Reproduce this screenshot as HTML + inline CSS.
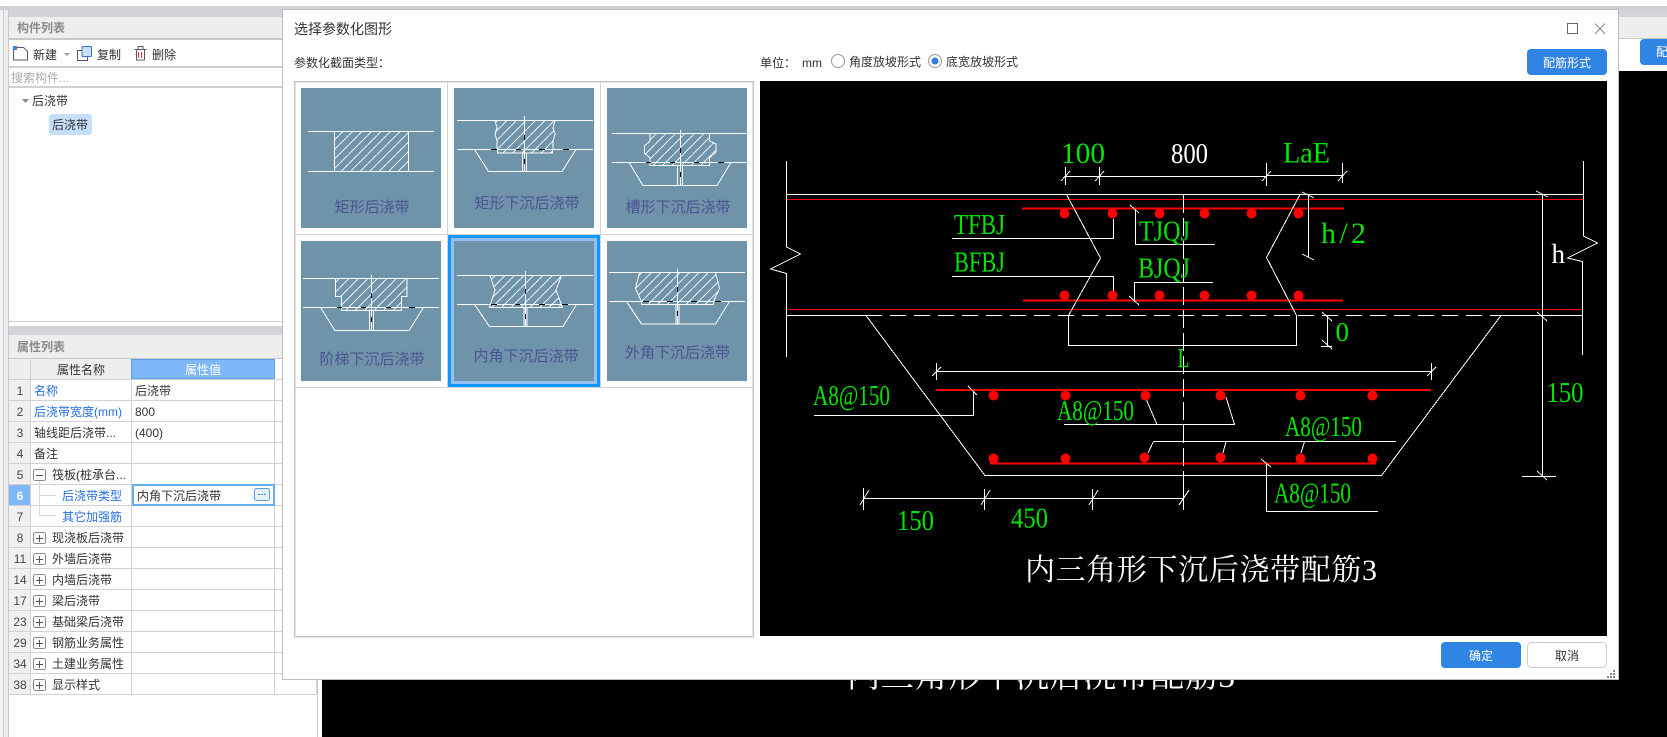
<!DOCTYPE html>
<html lang="zh"><head><meta charset="utf-8"><title>选择参数化图形</title>
<style>
html,body{margin:0;padding:0;background:#fff;width:1667px;height:737px;overflow:hidden}
svg{display:block}
text{font-family:"Liberation Sans","Noto Sans CJK SC",sans-serif;font-size:12px;fill:#333}
.b{fill:#2470e0}.n{text-anchor:middle;fill:#444}
.g{font-family:"Liberation Serif","Noto Serif CJK SC",serif;fill:#00e600}
.w{font-family:"Liberation Serif","Noto Serif CJK SC",serif;fill:#fff}
.t{font-size:15px;fill:#4a5590;text-anchor:middle}
.l{fill:none;stroke:#fff;stroke-width:1;shape-rendering:crispEdges}
.f{fill:url(#h);stroke:#fff;stroke-width:1;shape-rendering:crispEdges}
.d{fill:none;stroke:#000;stroke-width:1;shape-rendering:crispEdges}
.c{fill:none;stroke:#d2d2d2;stroke-width:1;shape-rendering:crispEdges}
.ic{fill:none;stroke:#555a6a;stroke-width:1}
</style></head><body>
<svg width="1667" height="737" viewBox="0 0 1667 737" xmlns="http://www.w3.org/2000/svg">
<defs>
<pattern id="h" patternUnits="userSpaceOnUse" width="9.500" height="9.500"><path d="M-1 10.500L10.500 -1" stroke="#fff" stroke-width="0.9" fill="none"/></pattern>
</defs>
<!-- base -->
<rect width="1667" height="737" fill="#fff"/>
<rect y="6" width="1667" height="4" fill="#cfd0d5"/>
<rect x="0" y="10" width="3" height="727" fill="#f2f2f2"/>
<rect x="3" y="10" width="1" height="727" fill="#c8c8c8"/>
<rect x="4" y="10" width="4" height="727" fill="#ededed"/>
<rect x="8" y="7" width="310" height="730" fill="#fff"/>
<rect x="8" y="7" width="310" height="10" fill="#d3d4d9"/>
<rect x="8" y="17" width="310" height="21" fill="#eee"/>
<rect x="8" y="38" width="310" height="2" fill="#c8c8c8"/>
<rect x="8" y="66" width="310" height="2" fill="#d0d0d0"/>
<rect x="8" y="86" width="310" height="2" fill="#d0d0d0"/>
<rect x="8" y="321" width="310" height="1" fill="#ccc"/>
<rect x="8" y="326" width="310" height="9" fill="#d3d4d9"/>
<rect x="8" y="335" width="310" height="23" fill="#eee"/>
<rect x="8" y="358" width="310" height="1" fill="#c8c8c8"/>
<rect x="8" y="10" width="1" height="727" fill="#c8c8c8"/>
<rect x="317" y="10" width="1" height="727" fill="#c8c8c8"/>
<!-- right region -->
<rect x="322" y="71" width="1345" height="666" fill="#000"/>
<rect x="1618" y="10" width="49" height="7" fill="#d3d4d9"/>
<rect x="1618" y="17" width="49" height="21" fill="#eee"/>
<rect x="1618" y="38" width="49" height="1" fill="#c8c8c8"/>
<rect x="1640" y="39" width="40" height="26" rx="4" fill="#2f84e4"/>
<text x="1656" y="56" style="fill:#fff">配</text>
<text x="847" y="687" class="w" style="font-size:33px" textLength="388" lengthAdjust="spacing">内三角形下沉后浇带配筋3</text>
<!-- left top -->
<text x="17" y="32" style="fill:#8a8a8a;font-weight:bold">构件列表</text>
<path class="ic" d="M13.500 47.500H23.500L27.500 51.500V60H13.500Z"/><rect x="13" y="46" width="4" height="4" fill="#3a80e8"/>
<text x="33" y="59">新建</text>
<path d="M64 53h6l-3 3z" fill="#999"/>
<rect x="77.500" y="50.500" width="10" height="10" class="ic"/><rect x="82" y="46.500" width="9.500" height="10" rx="1" fill="#c6dffa" stroke="#3a70c8"/>
<text x="97" y="59">复制</text>
<path class="ic" d="M134.500 49.500H146.500M136.500 49.500V60H144.500V49.500M138 49V46.500H143V49"/><path d="M138.500 52V58M141.500 52V58" stroke="#d8202a" fill="none"/>
<text x="152" y="59">删除</text>
<text x="11" y="82" style="fill:#aaa">搜索构件...</text>
<path d="M22 99h7l-3.500 4z" fill="#888"/>
<text x="32" y="105">后浇带</text>
<rect x="49" y="114" width="43" height="21" rx="3" fill="#c6dffa"/>
<text x="52" y="129">后浇带</text>
<!-- property table -->
<text x="17" y="351" style="fill:#8a8a8a;font-weight:bold">属性列表</text>
<rect x="9" y="359" width="266" height="20" fill="#eee"/>
<rect x="9" y="379" width="22" height="315" fill="#f0f0f0"/>
<rect x="131.500" y="359.500" width="143" height="19" fill="#7eb8f8" stroke="#5a9fe8"/>
<text x="57" y="374">属性名称</text>
<text x="185" y="374" style="fill:#fff">属性值</text>
<path class="c" d="M9 379.500H316M9 400.500H316M9 421.500H316M9 442.500H316M9 463.500H316M9 484.500H316M9 505.500H316M9 526.500H316M9 547.500H316M9 568.500H316M9 589.500H316M9 610.500H316M9 631.500H316M9 652.500H316M9 673.500H316M9 694.500H316M30.500 359V694M131.500 379V694M274.500 379V694M316.500 379V694"/>
<rect x="9" y="485" width="21" height="20" fill="#7eb8f8"/>
<text class="n" x="20" y="395">1</text><text class="n" x="20" y="416">2</text><text class="n" x="20" y="437">3</text><text class="n" x="20" y="458">4</text><text class="n" x="20" y="479">5</text>
<text class="n" x="20" y="500" style="fill:#fff;font-weight:bold">6</text>
<text class="n" x="20" y="521">7</text><text class="n" x="20" y="542">8</text><text class="n" x="20" y="563">11</text><text class="n" x="20" y="584">14</text><text class="n" x="20" y="605">17</text><text class="n" x="20" y="626">23</text><text class="n" x="20" y="647">29</text><text class="n" x="20" y="668">34</text><text class="n" x="20" y="689">38</text>
<text class="b" x="34" y="395">名称</text><text x="135" y="395">后浇带</text>
<text class="b" x="34" y="416">后浇带宽度(mm)</text><text x="135" y="416">800</text>
<text x="34" y="437">轴线距后浇带...</text><text x="135" y="437">(400)</text>
<text x="34" y="458">备注</text>
<text x="52" y="479">筏板(桩承台...</text>
<text class="b" x="62" y="500">后浇带类型</text>
<text class="b" x="62" y="521">其它加强筋</text>
<path d="M39.500 481V515.500H56M39.500 495.500H56" fill="none" stroke="#d8d8d8" shape-rendering="crispEdges"/>
<rect x="133" y="485" width="141" height="20" fill="#fff" stroke="#6aaeee" stroke-width="2"/>
<text x="137" y="500">内角下沉后浇带</text>
<rect x="254.500" y="488.500" width="15" height="12" rx="2" fill="#e8f1fb" stroke="#5a9fe8"/>
<path d="M258 494.500h2M261 494.500h2M264 494.500h2" stroke="#3a80d8" fill="none"/>
<text x="52" y="542">现浇板后浇带</text><text x="52" y="563">外墙后浇带</text><text x="52" y="584">内墙后浇带</text><text x="52" y="605">梁后浇带</text><text x="52" y="626">基础梁后浇带</text><text x="52" y="647">钢筋业务属性</text><text x="52" y="668">土建业务属性</text><text x="52" y="689">显示样式</text>
<g fill="#fff" stroke="#888" shape-rendering="crispEdges">
<rect x="33.500" y="469.500" width="12" height="11" rx="2"/>
<rect x="33.500" y="532.500" width="12" height="11" rx="2"/><rect x="33.500" y="553.500" width="12" height="11" rx="2"/><rect x="33.500" y="574.500" width="12" height="11" rx="2"/><rect x="33.500" y="595.500" width="12" height="11" rx="2"/><rect x="33.500" y="616.500" width="12" height="11" rx="2"/><rect x="33.500" y="637.500" width="12" height="11" rx="2"/><rect x="33.500" y="658.500" width="12" height="11" rx="2"/><rect x="33.500" y="679.500" width="12" height="11" rx="2"/>
</g>
<path d="M36 475.500h7M36 538.500h7M39.500 535v7M36 559.500h7M39.500 556v7M36 580.500h7M39.500 577v7M36 601.500h7M39.500 598v7M36 622.500h7M39.500 619v7M36 643.500h7M39.500 640v7M36 664.500h7M39.500 661v7M36 685.500h7M39.500 682v7" stroke="#555" fill="none" shape-rendering="crispEdges"/>
<!-- dialog -->
<rect x="282.500" y="9.500" width="1336" height="670" fill="#fff" stroke="#bcbcbc"/>
<text x="294" y="34" style="font-size:14px">选择参数化图形</text>
<path d="M1567.500 23.500h10v10h-10z" fill="none" stroke="#666" shape-rendering="crispEdges"/>
<path d="M1595 23.500L1605 34M1605 23.500L1595 34" stroke="#888" fill="none"/>
<text x="294" y="67">参数化截面类型：</text>
<text x="760" y="67">单位：</text><text x="802" y="67">mm</text>
<circle cx="838" cy="61" r="6.500" fill="#fff" stroke="#999"/>
<text x="849" y="66">角度放坡形式</text>
<circle cx="935" cy="61" r="6.500" fill="#fff" stroke="#999"/><circle cx="935" cy="61" r="3.500" fill="#2f7fe4"/>
<text x="946" y="66">底宽放坡形式</text>
<rect x="1527" y="49" width="80" height="26" rx="4" fill="#2f84e4"/>
<text x="1543" y="67" style="fill:#fff">配筋形式</text>
<rect x="1441" y="642" width="80" height="26" rx="4" fill="#2f84e4"/>
<text x="1469" y="660" style="fill:#fff">确定</text>
<rect x="1527.500" y="642.500" width="79" height="25" rx="4" fill="#fff" stroke="#ccc"/>
<text x="1555" y="660">取消</text>
<path d="M1613 670h2v2h-2zM1610 673h2v2h-2zM1613 673h2v2h-2zM1607 676h2v2h-2zM1610 676h2v2h-2zM1613 676h2v2h-2z" fill="#888"/>
<!-- grid -->
<rect x="294.500" y="81.500" width="458.500" height="555" fill="#fff" stroke="#c4c4c4" stroke-width="1.500" shape-rendering="crispEdges"/>
<path class="c" d="M295 234.500H753M295 387.500H753M447.500 81V387M600.500 81V387"/>
<!-- thumb 1 -->
<g transform="translate(301 88)">
<rect width="140" height="140" fill="#6f93a9"/>
<rect x="33.500" y="43.500" width="74" height="40" class="f"/>
<path class="l" d="M7 43.500H133M7 83.500H133"/>
<text class="t" x="71" y="124">矩形后浇带</text>
</g>
<!-- thumb 2 -->
<g transform="translate(454 88)">
<rect width="140" height="140" fill="#6f93a9"/>
<path d="M41 32.500L43 40 41 46 43 53V61.500H99V53L101 46 99 40 101 32.500Z" class="f"/>
<rect x="43.500" y="61.500" width="55" height="3.500" class="f"/>
<path class="l" d="M3 32.500H139M3 61.500H139M70.500 28V84M68.500 65V83M72.500 65V83M20.500 61.500L34.500 83.500H108L122 61.500"/>
<path class="d" d="M37 61.500h6M62 61.500h5M85 61.500h6M109 61.500h6M70.500 47v5M70.500 71v5"/>
<text class="t" x="73" y="120">矩形下沉后浇带</text>
</g>
<!-- thumb 3 -->
<g transform="translate(607 88)">
<rect width="140" height="140" fill="#6f93a9"/>
<path d="M43 45.500V53L37.500 58V65L43 70V77.500H102.500V70L109 64V56L102.500 53V45.500Z" class="f"/>
<path class="l" d="M5 45.500H140M5 74.500H140M73.500 42V97M70.500 77V97M75.500 77V97M22 74.500L36 97.500H110L124 74.500"/>
<path class="d" d="M39 74.500h5M63 74.500h5M87 74.500h5M111 74.500h6M73.500 60v5M73.500 84v5"/>
<text class="t" x="71" y="124">槽形下沉后浇带</text>
</g>
<!-- thumb 4 -->
<g transform="translate(301 241)">
<rect width="140" height="140" fill="#6f93a9"/>
<path d="M34.500 37.500V55.500H40.500V69.500H100.500V55.500H106V37.500Z" class="f"/>
<path class="l" d="M2 37.500H138M2 66.500H138M70.500 34V89M68.500 69V89M72.500 69V89M19.500 66.500L34 89.500H108L122.500 66.500"/>
<path class="d" d="M36 66.500h5M60 66.500h5M85 66.500h5M108 66.500h6M70.500 52v5M70.500 76v5"/>
<text class="t" x="71" y="123">阶梯下沉后浇带</text>
</g>
<!-- selected cell -->
<rect x="449.500" y="236.500" width="149" height="149" fill="none" stroke="#0f96ff" stroke-width="3"/>
<!-- thumb 5 -->
<g transform="translate(454 241)">
<rect width="140" height="140" fill="#6f93a9"/>
<path d="M36 34.500L41 49 35.500 66.500H108.500L102 49 107.500 34.500Z" class="f"/>
<path class="l" d="M3 34.500H139M3 63.500H139M71.500 30V86M70 66V85M73 66V85M20.500 63.500L35.500 85.500H109L122.500 63.500"/>
<path class="d" d="M37 63.500h6M61 63.500h5M85 63.500h6M108 63.500h6M71.500 48v5M71.500 73v5"/>
<text class="t" x="72" y="120">内角下沉后浇带</text>
</g>
<rect x="452.500" y="239.500" width="143" height="143" fill="none" stroke="#94c0f0" stroke-width="3"/>
<!-- thumb 6 -->
<g transform="translate(607 241)">
<rect width="140" height="140" fill="#6f93a9"/>
<path d="M32.500 31.500L28.500 47.500 34.500 60.500V63.500H106.500V60.500L112.500 47.500 108.500 31.500Z" class="f"/>
<path class="l" d="M2 31.500H138M2 60.500H138M70.500 28V84M69 63V83M72 63V83M19.500 60.500L34.500 83H108.500L122.500 60.500"/>
<path class="d" d="M36 60.500h6M60 60.500h6M84 60.500h6M108 60.500h6M70.500 46v5M70.500 70v5"/>
<text class="t" x="70.500" y="116.500">外角下沉后浇带</text>
</g>
<!-- drawing -->
<rect x="760" y="81" width="847" height="555" fill="#000"/>
<g shape-rendering="crispEdges">
<path d="M786 199.500H1583M786 309.500H1582" stroke="#f00" fill="none"/>
<path d="M1022 208.500H1344M1023 300.500H1343M936 390H1431M990 463.500H1376" stroke="#f00" stroke-width="2" fill="none"/>
<path class="l" d="M786.500 161V247L800.500 254 770.500 269 786.500 273.500V357M1583.500 161V236L1597.500 243 1567.500 258 1582.500 261.500V355"/>
<path class="l" d="M786 194.500H1583M786 315.500H866M1500 315.500H1582"/>
<path class="l" stroke-dasharray="16 8" d="M866 315.500H1500"/>
<path class="l" stroke-dasharray="18 5" d="M1183.500 195V510"/>
<path class="l" d="M1066.500 194.500L1100.500 258 1068.500 315.500V345.500H1296.500V315.500L1266.500 257.500 1300 194.500"/>
<path class="l" d="M1065 176.500H1266M1266 175.500H1342M1065.500 167V185M1099.500 167V185M1266.500 163V186M1342.500 163V183M1061 181L1070 171M1095 181L1104 171M1262 181L1271 171M1338 181L1347 171"/>
<path class="l" d="M952 238.500H1113.500V219M952 276.500H1113.500V293M1135.500 210V244.500H1215M1130 205L1139 213M1134.500 302V282.500H1213M1129 296L1139 305"/>
<path class="l" d="M1308.500 194V257.500M1302 192L1314 198M1302 254L1314 260M1542.500 194V476M1536 191L1548 197M1537 312L1547 321M1522 476.500H1556M1537 471L1547 480M1327.500 315V346.500M1322 312L1332 321M1321 346.500H1332M1322 340L1332 349"/>
<path class="l" d="M937 371.500H1432M936.500 363V380M1431.500 363V380M932 376L941 367M1427 376L1436 367"/>
<path class="l" d="M866 315.500L985 475.500H1381.500L1501 315.500"/>
<path class="l" d="M814 415.500H973.500V391M968 386L977 395M1064 424.500H1234.500L1226 397M1146.500 400L1157 424.500M1153.500 441.500H1396M1153.500 441.500L1148 453M1226 441.500L1223 453M1304.500 441.500L1301 453M1266.500 463V511.500H1378M1261 459L1271 467"/>
<path class="l" d="M864 498.500H1183M863.500 488V510M984.500 489V510M1092.500 489V510M1183.500 489V510M860 505L869 490M981 505L990 490M1089 505L1098 490M1179 505L1189 490"/>
</g>
<g fill="#f00">
<circle cx="1064.500" cy="213.500" r="5"/><circle cx="1112.500" cy="213.500" r="5"/><circle cx="1159.500" cy="213.500" r="5"/><circle cx="1204.500" cy="213.500" r="5"/><circle cx="1251.500" cy="213.500" r="5"/><circle cx="1298.500" cy="213.500" r="5"/>
<circle cx="1064.500" cy="295.500" r="5"/><circle cx="1112.500" cy="295.500" r="5"/><circle cx="1159.500" cy="295.500" r="5"/><circle cx="1204.500" cy="295.500" r="5"/><circle cx="1251.500" cy="295.500" r="5"/><circle cx="1298.500" cy="295.500" r="5"/>
<circle cx="993.500" cy="395.500" r="5"/><circle cx="1065.500" cy="395.500" r="5"/><circle cx="1145.500" cy="395.500" r="5"/><circle cx="1220.500" cy="395.500" r="5"/><circle cx="1300.500" cy="395.500" r="5"/><circle cx="1372.500" cy="395.500" r="5"/>
<circle cx="993.500" cy="458.500" r="5"/><circle cx="1065.500" cy="458.500" r="5"/><circle cx="1144.500" cy="457.500" r="5"/><circle cx="1220.500" cy="457.500" r="5"/><circle cx="1300.500" cy="458.500" r="5"/><circle cx="1372.500" cy="458.500" r="5"/>
</g>
<text class="g" x="1061" y="163" style="font-size:30px" textLength="44" lengthAdjust="spacingAndGlyphs">100</text>
<text class="w" x="1171" y="163" style="font-size:29px" textLength="37" lengthAdjust="spacingAndGlyphs">800</text>
<text class="g" x="1283" y="162.500" style="font-size:30px" textLength="47" lengthAdjust="spacingAndGlyphs">LaE</text>
<text class="g" x="954" y="234" style="font-size:28px" textLength="51" lengthAdjust="spacingAndGlyphs">TFBJ</text>
<text class="g" x="954" y="271.500" style="font-size:28px" textLength="51" lengthAdjust="spacingAndGlyphs">BFBJ</text>
<text class="g" x="1139" y="240.500" style="font-size:28px" textLength="51" lengthAdjust="spacingAndGlyphs">TJQJ</text>
<text class="g" x="1138" y="277.500" style="font-size:28px" textLength="52" lengthAdjust="spacingAndGlyphs">BJQJ</text>
<text class="g" x="1321" y="243" style="font-size:30px" textLength="45" lengthAdjust="spacing">h/2</text>
<text class="w" x="1551.500" y="263" style="font-size:27px">h</text>
<text class="g" x="1335.500" y="341" style="font-size:27px">0</text>
<text class="g" x="1177.500" y="367" style="font-size:27px" textLength="12" lengthAdjust="spacingAndGlyphs">L</text>
<text class="g" x="813" y="405" style="font-size:28px" textLength="77" lengthAdjust="spacingAndGlyphs">A8@150</text>
<text class="g" x="1057" y="420" style="font-size:28px" textLength="77" lengthAdjust="spacingAndGlyphs">A8@150</text>
<text class="g" x="1285" y="436" style="font-size:28px" textLength="77" lengthAdjust="spacingAndGlyphs">A8@150</text>
<text class="g" x="1274" y="502.500" style="font-size:28px" textLength="77" lengthAdjust="spacingAndGlyphs">A8@150</text>
<text class="g" x="1546.500" y="402" style="font-size:28px" textLength="37" lengthAdjust="spacingAndGlyphs">150</text>
<text class="g" x="897" y="530" style="font-size:28px" textLength="37" lengthAdjust="spacingAndGlyphs">150</text>
<text class="g" x="1011" y="527.500" style="font-size:28px" textLength="37" lengthAdjust="spacingAndGlyphs">450</text>
<text class="w" x="1025" y="580" style="font-size:30px" textLength="352" lengthAdjust="spacing">内三角形下沉后浇带配筋3</text>
</svg>
</body></html>
